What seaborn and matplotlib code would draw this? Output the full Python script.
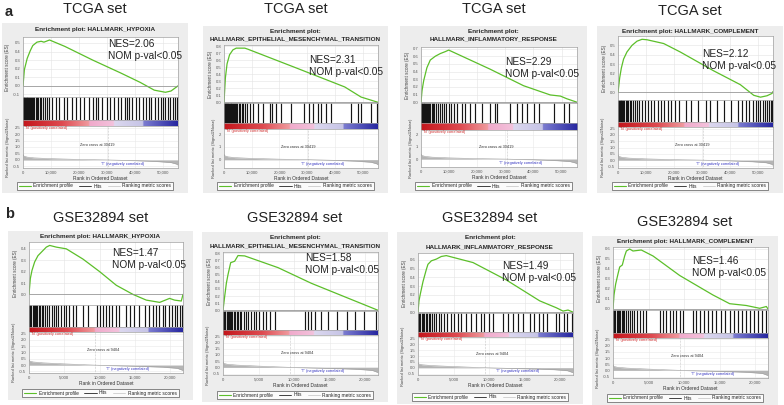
import numpy as np
import seaborn as sns
import matplotlib.pyplot as plt
from matplotlib.colors import LinearSegmentedColormap
from matplotlib.patches import Rectangle
from matplotlib.lines import Line2D
from matplotlib.ticker import FuncFormatter

# ---------------- values (ranks in thousands) ----------------
gene_sets = ["HALLMARK_HYPOXIA", "HALLMARK_EPITHELIAL_MESENCHYMAL_TRANSITION",
             "HALLMARK_INFLAMMATORY_RESPONSE", "HALLMARK_COMPLEMENT"]
cohorts = ["TCGA set", "GSE32894 set"]
row_labels = ["a", "b"]
nes_tcga = [2.06, 2.31, 2.29, 2.12]
nes_gse = [1.47, 1.58, 1.49, 1.46]
list_size = [55.5, 21.8]
zero_cross = [30419, 9404]

tcga_hypoxia_rank = [0, 0.5, 1.5, 2.6, 3.5, 5.0, 6.5, 7.5, 9.5, 15, 25, 35, 42, 47, 51, 53, 55.5]
tcga_hypoxia_es = [0, 0.19, 0.32, 0.41, 0.47, 0.51, 0.52, 0.51, 0.535, 0.46, 0.30, 0.15, 0.04, -0.05, -0.075, -0.06, 0.0]
tcga_emt_rank = [0, 0.5, 1.1, 2.0, 3.2, 4.4, 7.5, 8.6, 25.5, 43.5, 49.4, 55.5]
tcga_emt_es = [0, 0.35, 0.55, 0.68, 0.75, 0.775, 0.775, 0.76, 0.50, 0.22, 0.075, 0.0]
tcga_inflam_rank = [0, 0.36, 0.95, 2.1, 3.3, 5.1, 6.9, 8.65, 9.85, 24.65, 36.5, 46.0, 49.6, 51.9, 55.5]
tcga_inflam_es = [0, 0.15, 0.28, 0.45, 0.55, 0.60, 0.635, 0.66, 0.68, 0.43, 0.215, 0.095, 0.08, 0.045, 0.0]
tcga_compl_rank = [0, 0.6, 1.2, 2.0, 3.2, 5.0, 6.8, 8.6, 10.4, 16.35, 22.3, 34.25, 43.8, 48.6, 51.0, 53.35, 55.15, 55.5]
tcga_compl_es = [0, 0.155, 0.26, 0.355, 0.43, 0.50, 0.545, 0.565, 0.56, 0.52, 0.43, 0.23, 0.083, -0.03, -0.05, -0.035, -0.01, 0.01]

gse_hypoxia_rank = [0, 0.19, 0.42, 0.8, 1.27, 1.98, 2.45, 2.93, 3.87, 5.28, 7.64, 10.0, 12.36, 14.72, 16.6, 18.5, 19.9, 20.6, 21.56, 21.8]
gse_hypoxia_es = [0, 0.14, 0.21, 0.285, 0.34, 0.385, 0.415, 0.43, 0.415, 0.40, 0.31, 0.20, 0.08, 0.0, -0.05, -0.07, -0.035, -0.05, -0.058, 0.0]
gse_emt_rank = [0, 0.23, 0.47, 0.7, 1.08, 1.64, 2.11, 3.05, 7.74, 12.42, 17.11, 19.46, 21.8]
gse_emt_es = [0, 0.19, 0.38, 0.50, 0.67, 0.69, 0.77, 0.765, 0.60, 0.38, 0.19, 0.095, 0.0]
gse_inflam_rank = [0, 0.14, 0.33, 0.7, 1.17, 1.4, 1.88, 2.58, 3.28, 3.98, 7.74, 12.42, 17.11, 19.46, 20.4, 21.1, 21.8]
gse_inflam_es = [0, 0.13, 0.21, 0.35, 0.49, 0.55, 0.59, 0.61, 0.64, 0.65, 0.57, 0.37, 0.13, 0.05, 0.012, 0.024, 0.0]
gse_compl_rank = [0, 0.14, 0.375, 0.7, 0.94, 1.31, 1.64, 1.88, 2.34, 2.81, 3.98, 5.63, 9.38, 14.06, 16.41, 18.75, 20.63, 21.57, 21.8]
gse_compl_es = [0, 0.14, 0.25, 0.35, 0.42, 0.44, 0.53, 0.58, 0.60, 0.58, 0.59, 0.53, 0.335, 0.14, 0.053, 0.035, 0.007, 0.025, 0.0]

tcga_hypoxia_hits = [0.1, 0.3, 0.5, 0.8, 1.0, 1.3, 1.6, 1.9, 2.2, 2.6, 3.0, 3.3, 3.7, 4.1, 4.6, 5.0, 5.5, 6.0,
                     6.6, 7.2, 7.9, 8.5, 9.3, 10.5, 11.8, 13.0, 14.6, 15.9, 17.5, 19.0, 20.3, 22.0, 23.5, 25.2,
                     26.0, 27.0, 28.4, 30.1, 31.0, 32.6, 34.0, 35.2, 36.5, 37.2, 38.0, 39.1, 40.4, 41.5, 42.8,
                     44.0, 45.1, 46.0, 47.3, 48.5, 49.4, 50.3, 51.0, 52.0, 52.8, 53.6, 54.4, 55.0]
tcga_emt_hits = [0.05, 0.2, 0.4, 0.6, 0.8, 1.0, 1.2, 1.4, 1.6, 1.9, 2.1, 2.4, 2.7, 3.0, 3.3, 3.6, 4.0, 4.4,
                 4.8, 5.3, 5.8, 6.4, 7.0, 7.7, 8.4, 9.2, 10.4, 12.2, 14.0, 16.4, 17.3, 18.8, 20.6, 24.2,
                 29.0, 30.8, 32.2, 33.8, 35.0, 36.8, 38.6, 45.8, 48.2, 49.4, 53.0, 55.2]
tcga_inflam_hits = [0.05, 0.25, 0.45, 0.7, 0.9, 1.2, 1.5, 1.8, 2.1, 2.5, 2.9, 3.3, 3.8, 4.3, 4.8, 5.4, 6.0,
                    6.7, 7.4, 8.1, 8.9, 9.8, 10.7, 11.6, 12.8, 14.5, 15.8, 17.6, 19.3, 21.7, 24.7, 26.4,
                    27.0, 31.8, 34.2, 35.9, 37.7, 40.1, 41.9, 47.2, 50.8, 52.5]
tcga_compl_hits = [0.05, 0.3, 0.6, 0.9, 1.2, 1.5, 1.9, 2.3, 2.7, 3.2, 3.7, 4.2, 4.8, 5.4, 6.0, 6.8, 7.6,
                   8.5, 9.5, 10.6, 11.8, 13.0, 14.2, 15.5, 16.5, 17.8, 19.0, 20.5, 22.0, 24.5, 26.0, 28.5,
                   31.5, 33.0, 35.5, 38.0, 40.5, 43.0, 44.5, 45.8, 47.0, 48.2, 49.3, 50.2, 51.0, 51.8,
                   52.6, 53.3, 54.0, 54.7, 55.3]
gse_hypoxia_hits = [0.05, 0.2, 0.35, 0.5, 0.65, 0.8, 1.0, 1.2, 1.4, 1.6, 1.8, 2.0, 2.3, 2.6, 2.9, 3.2, 3.5,
                    3.8, 4.1, 4.5, 4.9, 5.3, 5.7, 6.2, 6.7, 7.6, 8.4, 9.6, 10.1, 10.5, 10.9, 11.3, 11.8,
                    12.3, 12.8, 13.8, 14.3, 14.9, 15.6, 16.4, 17.0, 17.5, 18.0, 18.4, 18.9, 19.3, 19.8,
                    20.2, 20.6, 21.0, 21.4, 21.7]
gse_emt_hits = [0.05, 0.15, 0.25, 0.35, 0.5, 0.65, 0.8, 0.95, 1.1, 1.3, 1.5, 1.7, 1.9, 2.1, 2.35, 2.6, 2.9,
                3.2, 3.5, 3.9, 4.3, 4.7, 5.1, 5.6, 6.1, 6.6, 7.3, 11.5, 11.9, 12.4, 12.9, 13.8, 14.7,
                16.1, 17.5, 18.5, 19.9, 21.5]
gse_inflam_hits = [0.05, 0.2, 0.35, 0.5, 0.7, 0.9, 1.1, 1.3, 1.5, 1.75, 2.0, 2.3, 2.6, 2.9, 3.3, 3.7, 4.1,
                   4.6, 5.1, 5.6, 6.1, 6.7, 7.4, 8.1, 8.8, 9.3, 10.0, 10.6, 12.0, 12.6, 13.3, 14.0, 14.8,
                   15.7, 16.3, 17.0, 17.6, 18.2, 19.4, 19.9, 20.5, 21.0, 21.6]
gse_compl_hits = [0.05, 0.2, 0.35, 0.5, 0.65, 0.8, 1.0, 1.2, 1.4, 1.6, 1.85, 2.1, 2.4, 2.7, 3.0, 3.4, 3.8,
                  4.2, 4.7, 6.6, 7.0, 7.5, 8.0, 8.5, 8.9, 9.4, 9.8, 11.2, 11.7, 12.2, 12.8, 13.4, 13.9,
                  14.5, 15.2, 15.8, 16.4, 17.0, 17.6, 18.1, 18.7, 19.3, 19.8, 20.4, 21.0, 21.5]

tcga_metric_rank = [0, 0.3, 1.5, 4, 10, 20, 30.4, 40, 48, 53, 55, 55.5]
tcga_metric = [0.42, 0.30, 0.22, 0.16, 0.10, 0.04, 0.0, -0.05, -0.12, -0.20, -0.32, -0.40]
gse_metric_rank = [0, 0.1, 0.6, 2, 5, 8, 9.4, 12, 16, 19, 21, 21.8]
gse_metric = [0.45, 0.32, 0.25, 0.18, 0.10, 0.03, 0.0, -0.04, -0.10, -0.16, -0.25, -0.42]

es_curves = [
    [(tcga_hypoxia_rank, tcga_hypoxia_es), (tcga_emt_rank, tcga_emt_es),
     (tcga_inflam_rank, tcga_inflam_es), (tcga_compl_rank, tcga_compl_es)],
    [(gse_hypoxia_rank, gse_hypoxia_es), (gse_emt_rank, gse_emt_es),
     (gse_inflam_rank, gse_inflam_es), (gse_compl_rank, gse_compl_es)],
]
hit_lists = [[tcga_hypoxia_hits, tcga_emt_hits, tcga_inflam_hits, tcga_compl_hits],
             [gse_hypoxia_hits, gse_emt_hits, gse_inflam_hits, gse_compl_hits]]
metrics = [(tcga_metric_rank, tcga_metric), (gse_metric_rank, gse_metric)]
nes_values = [nes_tcga, nes_gse]

# ---------------- layout (pixels) ----------------
# left, right, title ys, es_top, es_bot, hits_bot, cbar_bot, rank_bot, legend_y, header_y
layout = [
    [(23, 178, [29], 37, 97, 120, 126, 168, 186, 9),
     (224, 378, [32, 39], 45, 103, 123, 129, 168, 186, 9),
     (421, 577, [32, 39], 47, 103, 123, 130, 167, 186, 9),
     (618, 773, [32], 36, 100, 122, 127, 168, 186, 11)],
    [(29, 183, [237], 242, 305, 327, 332, 373, 393, 218),
     (223, 378, [238, 246], 252, 311, 330, 335, 375, 395, 218),
     (418, 573, [238, 247], 253, 313, 332, 337, 375, 397, 218),
     (613, 768, [242], 247, 310, 333, 338, 378, 398, 222)],
]
es_ylims = [[(-0.13, 0.57), (-0.01, 0.82), (-0.01, 0.72), (-0.08, 0.60)],
            [(-0.093, 0.46), (-0.01, 0.82), (-0.01, 0.68), (-0.01, 0.62)]]
es_ticks = [[np.arange(-0.1, 0.51, 0.1), np.arange(0, 0.81, 0.1), np.arange(0, 0.71, 0.1), np.arange(0, 0.51, 0.1)],
            [np.arange(0, 0.41, 0.1), np.arange(0, 0.81, 0.1), np.arange(0, 0.61, 0.1), np.arange(0, 0.61, 0.1)]]
nes_pos = [[(0.55, 0.96), (0.55, 0.83), (0.54, 0.82), (0.54, 0.80)],
           [(0.54, 0.90), (0.53, 0.99), (0.54, 0.86), (0.51, 0.86)]]
x_ticks = [[0, 10, 20, 30, 40, 50], [0, 5, 10, 15, 20]]

GREEN = "#5cbf2a"
bar_cmap = LinearSegmentedColormap.from_list("gsea", [
    (0.0, "#c4161c"), (0.25, "#de4a50"), (0.425, "#ef9a9e"), (0.43, "#f0aacb"), (0.585, "#f3c2dc"),
    (0.59, "#dcd8ef"), (0.775, "#c6c4e6"), (0.78, "#7c7cd0"), (1.0, "#2626a0")])

sns.set_theme(style="white")
plt.rcParams['font.family'] = ['Liberation Sans', 'DejaVu Sans']

W, H = 784, 405
fig = plt.figure(figsize=(W / 100, H / 100), dpi=100)


def add_ax(l, t, r, b):
    ax = fig.add_axes([l / W, 1 - b / H, (r - l) / W, (b - t) / H])
    ax.set_zorder(2)
    return ax


def style_ax(ax):
    for s in ax.spines.values():
        s.set_color("#a0a0a0")
        s.set_linewidth(0.5)
    ax.tick_params(labelsize=3, colors="#555555", length=1, width=0.4, pad=1)


thousands = FuncFormatter(lambda v, p: f"{int(round(v * 1000)):,}")

for r in range(2):
    n = list_size[r]
    for c in range(4):
        (l, rt, tys, es_t, es_b, hit_b, cb_b, rk_b, leg_y, head_y) = layout[r][c]
        box_l, box_r = l - 21, rt + 10
        box_t, box_b = tys[0] - 6, leg_y + 7
        fig.patches.append(Rectangle((box_l / W, 1 - box_b / H), (box_r - box_l) / W,
                                     (box_b - box_t) / H, transform=fig.transFigure,
                                     facecolor="#ededed", edgecolor="none", zorder=-5))
        cx = (box_l + box_r) / 2
        fig.text(cx / W, 1 - head_y / H, cohorts[r], ha="center", va="center", fontsize=10.5, color="#222222")
        if len(tys) == 1:
            fig.text(cx / W, 1 - tys[0] / H, "Enrichment plot: " + gene_sets[c], ha="center", va="center",
                     fontsize=4.6, fontweight="bold")
        else:
            fig.text(cx / W, 1 - tys[0] / H, "Enrichment plot:", ha="center", va="center",
                     fontsize=4.6, fontweight="bold")
            fig.text(cx / W, 1 - tys[1] / H, gene_sets[c], ha="center", va="center",
                     fontsize=4.6, fontweight="bold")

        # enrichment score
        ax = add_ax(l, es_t, rt, es_b)
        ranks, es = es_curves[r][c]
        sns.lineplot(x=ranks, y=es, ax=ax, color=GREEN, linewidth=0.9)
        ax.axhline(0, color="#8a8a8a", linewidth=0.5)
        ax.set_xlim(0, n)
        ax.set_ylim(*es_ylims[r][c])
        ax.set_yticks(es_ticks[r][c])
        ax.yaxis.set_major_formatter(FuncFormatter(lambda v, p: f"{v:.1f}"))
        ax.set_xticks(x_ticks[r])
        ax.set_xticklabels([])
        ax.tick_params(axis="x", length=0)
        ax.grid(True, color="#e4e4e4", linewidth=0.4)
        ax.set_ylabel("Enrichment score (ES)", fontsize=3.3, color="#444444", labelpad=2)
        style_ax(ax)
        nx, ny = nes_pos[r][c]
        ax.text(nx, ny, f"NES={nes_values[r][c]:.2f}\nNOM p-val<0.05", transform=ax.transAxes,
                ha="left", va="top", fontsize=7.3, color="#222222", linespacing=1.25)

        # hits
        axh = add_ax(l, es_b, rt, hit_b)
        axh.vlines(hit_lists[r][c], 0, 1, color="#151515", linewidth=0.85)
        axh.set_xlim(0, n)
        axh.set_ylim(0, 1)
        axh.set_xticks([])
        axh.set_yticks([])
        style_ax(axh)

        # ranking colour bar
        axc = add_ax(l, hit_b, rt, cb_b)
        axc.imshow(np.linspace(0, 1, 256)[None, :], aspect="auto", cmap=bar_cmap, extent=(0, n, 0, 1))
        axc.set_xlim(0, n)
        axc.set_xticks([])
        axc.set_yticks([])
        style_ax(axc)

        # ranked list metric
        axr = add_ax(l, cb_b, rt, rk_b)
        mr, mv = metrics[r]
        axr.fill_between(mr, mv, 0, color="#b5b5b5", linewidth=0)
        axr.plot(mr, mv, color="#a0a0a0", linewidth=0.4)
        axr.axvline(zero_cross[r] / 1000, color="#9a9a9a", linewidth=0.4, linestyle=":")
        axr.set_xlim(0, n)
        if r == 0 and c in (1, 2):
            axr.set_ylim(-0.65, 2.4)
            axr.set_yticks([0, 1, 2])
            axr.yaxis.set_major_formatter(FuncFormatter(lambda v, p: f"{v:.0f}"))
        else:
            axr.set_ylim(-0.62, 2.62)
            axr.set_yticks(np.arange(-0.5, 2.51, 0.5))
            axr.yaxis.set_major_formatter(FuncFormatter(lambda v, p: f"{v:.1f}"))
        axr.set_xticks(x_ticks[r])
        axr.xaxis.set_major_formatter(thousands)
        axr.grid(True, color="#e8e8e8", linewidth=0.4)
        axr.set_xlabel("Rank in Ordered Dataset", fontsize=3.5, color="#333333", labelpad=1)
        axr.set_ylabel("Ranked list metric (Signal2Noise)", fontsize=2.9, color="#444444", labelpad=2)
        style_ax(axr)
        axr.text(0.01, 0.99, "'N' (positively correlated)", transform=axr.transAxes, ha="left", va="top",
                 fontsize=2.8, color="#d03030")
        axr.text(0.48, 0.55, f"Zero cross at {zero_cross[r]}", transform=axr.transAxes, ha="center",
                 va="center", fontsize=2.8, color="#333333")
        axr.text(0.64, 0.1, "'T' (negatively correlated)", transform=axr.transAxes, ha="center",
                 va="center", fontsize=2.8, color="#3030c0")

        handles = [Line2D([], [], color=GREEN, lw=0.8), Line2D([], [], color="#222222", lw=0.6),
                   Line2D([], [], color="#cccccc", lw=0.6)]
        leg = fig.legend(handles, ["Enrichment profile", "Hits", "Ranking metric scores"],
                         loc="center", bbox_to_anchor=(cx / W, 1 - leg_y / H), ncol=3, fontsize=3.5,
                         frameon=True, fancybox=False, edgecolor="#333333", handlelength=2.5,
                         columnspacing=1.2, handletextpad=0.5, borderpad=0.35)
        leg.get_frame().set_linewidth(0.5)
        leg.get_frame().set_facecolor("white")

fig.text(5 / W, 1 - 12 / H, row_labels[0], fontsize=10.5, fontweight="bold", va="center", ha="left")
fig.text(5 / W, 1 - 214 / H, row_labels[1], fontsize=10.5, fontweight="bold", va="center", ha="left")

fig.savefig("out.png", dpi=100, facecolor="white")
